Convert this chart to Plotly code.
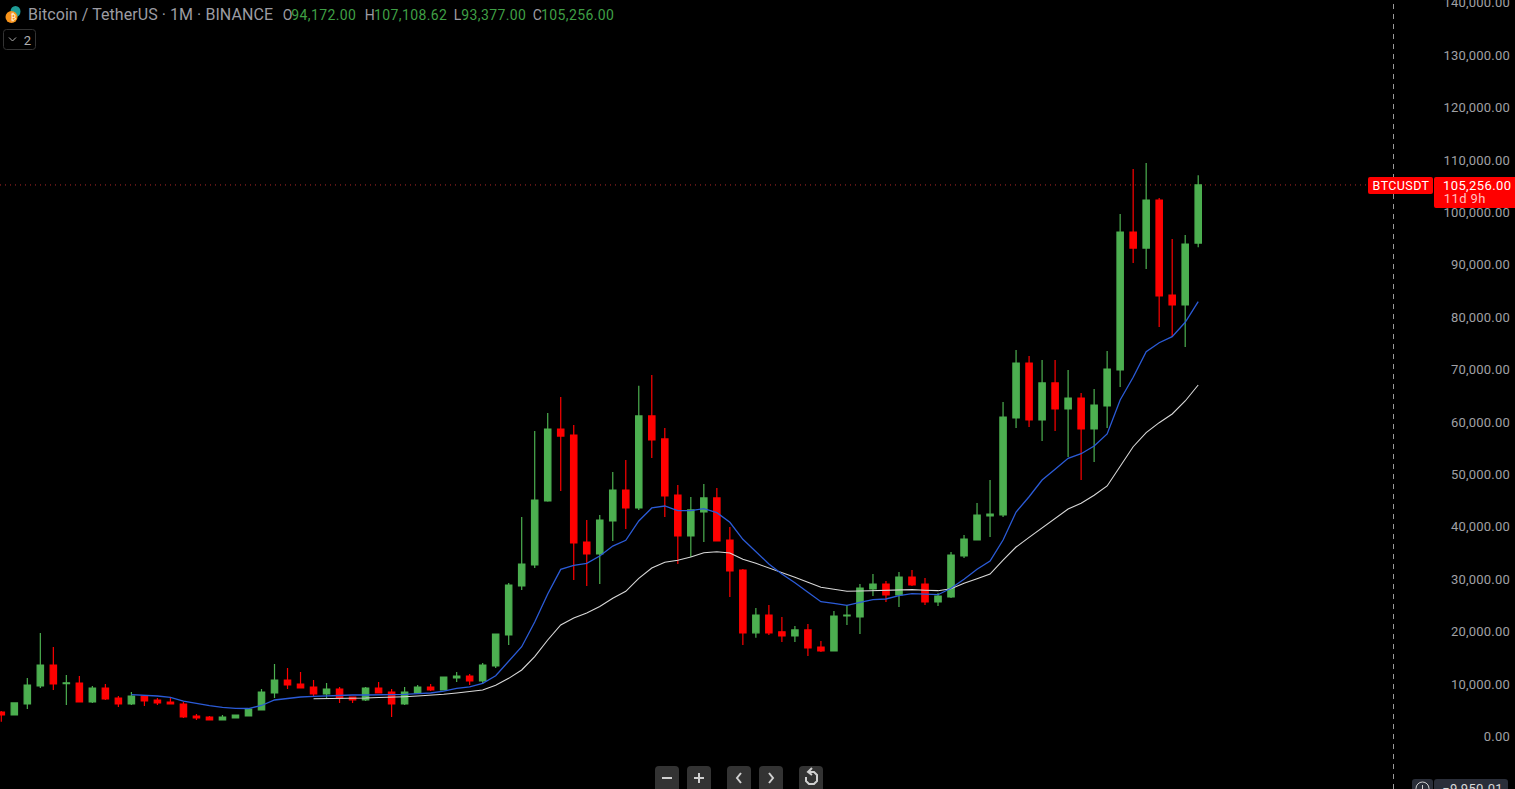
import plotly.graph_objects as go

# Monthly BTC/USDT candles
opens = [4675,4100,6200,9640,13645,10100,10210,6584,9255,7347,6202,7729,6965,6584,6202,3912,3721,3148,3530,3912,5057,8301,
 10783,10019,9446,8110,9064,7538,6965,9255,8492,6202,8301,9446,8874,11164,11546,10592,13455,19370,28721,32730,44940,58680,57530,
 37120,34830,41130,47040,43610,61170,56780,46090,38260,42850,45520,37500,31770,19790,23190,19980,19180,20330,17080,16320,23000,
 22810,28150,29100,27000,30440,29100,25670,26620,34450,37500,42080,42270,60780,71280,60400,67470,62500,64600,58680,63070,69940,
 96280,93220,102380,84260,82350,94172]
highs = [4866,6450,11164,19752,17080,11737,11546,9637,10019,7729,8492,7850,7347,7538,6584,4293,3912,4103,4200,5300,9064,13836,
 13073,12309,10783,10210,9446,7600,9446,10401,9064,9446,9828,10019,11400,12309,11928,14027,19650,29290,41890,58300,61740,64790,
 59440,41320,42270,50480,52770,66930,68990,58870,47990,45710,48180,47420,39980,31960,24530,25100,22810,21090,21470,18230,23950,
 25100,29100,31010,29670,31390,31770,30250,27390,35210,38450,44560,48950,63830,73760,72610,71850,71850,69950,65550,66320,73570,
 99700,108300,109450,102770,94940,95710,107108.62]
lows = [2820,4050,5248,9255,8874,6011,6584,6393,6965,5630,6011,5821,6011,6202,3530,3148,3100,3100,3480,3850,5000,7347,9064,9255,
 7729,7347,6393,6393,6775,8301,3721,6011,8110,8683,8800,10401,9828,10019,13073,17464,27960,32150,44800,46850,29870,28720,29100,
 37310,39600,43230,53150,41890,32920,34260,37120,37310,26620,17460,18840,19370,18040,18040,15360,16130,16250,21280,19560,26810,
 25670,24710,28720,25100,24900,26430,34070,37400,38070,41890,58870,59060,56400,58300,53340,48950,52390,58870,66700,90360,89220,
 78150,76430,74330,93377]
closes = [4100,6400,9828,13645,10019,10250,6584,9255,7156,6202,7729,6775,6393,6202,3721,3530,3148,3721,4103,5248,8492,10783,9828,
 9255,8110,9064,7347,6965,9255,8301,6202,8492,9446,8874,11355,11546,10592,13645,19560,28915,32920,45135,58680,57340,36930,34830,
 41320,47040,43610,61170,56590,45900,38260,43230,45520,37310,31580,19790,23190,19790,19180,20330,16890,16320,23000,23190,28340,
 29100,27000,30440,28910,25670,26810,34640,37690,42270,42460,60970,71280,60400,67470,62500,64600,58680,63260,70130,96280,93220,
 102380,84070,82350,93990,105256]
ma_fast = [None]*10 + [8010,7920,7730,7480,6770,6340,5880,5570,5380,5340,5920,6970,7290,7540,7670,7790,7860,7920,7920,7920,8020,
 8050,8170,8300,8680,9200,9450,10150,11600,14270,17140,21850,27200,31900,32670,33050,34450,36350,37440,41130,43610,43990,43090,
 43090,43470,42710,40880,37630,35270,32920,31010,29350,27510,25730,25420,25040,25610,26110,26240,26870,27250,27140,27060,28280,
 30000,31910,33490,37500,42840,45760,48950,50990,53090,53970,55440,57730,64220,68550,73440,75150,76300,79050,82980]
ma_slow = [None]*24 + [7210,7210,7250,7290,7350,7440,7480,7600,7730,7860,8050,8300,8550,8870,9770,11100,12690,15230,18420,21280,
 22610,23570,24810,26370,27710,30190,32160,33240,33620,34260,35080,35270,35020,33820,33050,32210,31260,30380,29430,28470,28090,
 27710,27770,27830,27900,27960,28020,27900,27830,28210,29240,30110,31010,33680,36160,38000,39850,41640,43420,44500,46030,47810,
 51620,55300,57980,59890,61550,64030,67080]
months = list(range(len(closes)))
price_ticks = list(range(0, 150000, 10000))
title_text = "Bitcoin / TetherUS · 1M · BINANCE"
ohlc_labels = [("O", 282, "94,172.00", 292), ("H", 364, "107,108.62", 375), ("L", 453, "93,377.00", 462), ("C", 532, "105,256.00", 542)]

W, H = 1515, 789
GREEN, RED = "#4CAF50", "#FF0000"
FONT = "Roboto"
px = lambda x: x / W
py = lambda y: 1 - y / H

def rrect(x0, y0, x1, y1, r=4):
    return (f"M{px(x0+r)},{py(y0)} L{px(x1-r)},{py(y0)} Q{px(x1)},{py(y0)} {px(x1)},{py(y0+r)} "
            f"L{px(x1)},{py(y1-r)} Q{px(x1)},{py(y1)} {px(x1-r)},{py(y1)} L{px(x0+r)},{py(y1)} "
            f"Q{px(x0)},{py(y1)} {px(x0)},{py(y1-r)} L{px(x0)},{py(y0+r)} Q{px(x0)},{py(y0)} {px(x0+r)},{py(y0)} Z")

def poly(points):
    return "M" + " L".join(f"{px(x)},{py(y)}" for x, y in points)

def shp(path, fill=None, line=None, lw=1):
    d = dict(type="path", xref="paper", yref="paper", path=path, layer="above",
             line=dict(color=line or "rgba(0,0,0,0)", width=lw))
    if fill:
        d["fillcolor"] = fill
    return d

def txt(x, y, s, color, size, anchor="left"):
    return dict(xref="paper", yref="paper", x=px(x), y=py(y), text=s, showarrow=False, xanchor=anchor, yanchor="middle",
                font=dict(family=FONT, size=size, color=color), borderpad=0, bgcolor="rgba(0,0,0,0)")

fig = go.Figure()
fig.add_trace(go.Candlestick(x=months, open=opens, high=highs, low=lows, close=closes, whiskerwidth=0, hoverinfo="skip",
    increasing=dict(line=dict(color=GREEN, width=1.2), fillcolor=GREEN),
    decreasing=dict(line=dict(color=RED, width=1.2), fillcolor=RED)))
fig.add_trace(go.Scatter(x=months, y=ma_slow, mode="lines", line=dict(color="#D8D8D8", width=1.1), hoverinfo="skip"))
fig.add_trace(go.Scatter(x=months, y=ma_fast, mode="lines", line=dict(color="#2B5BD7", width=1.3), hoverinfo="skip"))

shapes = [
    # last-price dotted line and the cursor's dashed line
    dict(type="line", xref="paper", yref="y", x0=0, x1=px(1368), y0=closes[-1], y1=closes[-1], layer="below",
         line=dict(color="#B02828", width=1, dash="1px 4px")),
    dict(type="line", xref="paper", yref="paper", x0=px(1393.5), x1=px(1393.5), y0=0, y1=1, layer="below",
         line=dict(color="#9a9a9a", width=1, dash="5px 5px")),
    # price badges
    shp(rrect(1368, 177, 1433, 194, 2), fill="#FF0000"),
    shp(rrect(1434, 177, 1520, 208, 2), fill="#FF0000"),
    # legend icons
    dict(type="circle", xref="paper", yref="paper", x0=px(10.5), x1=px(20.5), y0=py(6), y1=py(17), layer="above",
         fillcolor="#1E9C96", line=dict(width=0)),
    dict(type="circle", xref="paper", yref="paper", x0=px(5.5), x1=px(17.5), y0=py(11), y1=py(23), layer="above",
         fillcolor="#F7931A", line=dict(width=0)),
    shp(rrect(3.5, 29.5, 35.5, 49.5, 3), line="#333333"),
    shp(poly([(9, 37.5), (12.5, 41), (16, 37.5)]), line="#B0B0B0", lw=1),
    # zoom & scroll buttons
    shp(rrect(655, 766, 679, 800, 4), fill="#333333"),
    shp(rrect(687, 766, 711, 800, 4), fill="#333333"),
    shp(rrect(727, 766, 751, 800, 4), fill="#333333"),
    shp(rrect(759, 766, 783, 800, 4), fill="#333333"),
    shp(rrect(799, 766, 823, 800, 4), fill="#333333"),
    shp(poly([(662, 778), (672, 778)]), line="#D0D0D0", lw=2),
    shp(poly([(694, 778), (704, 778)]), line="#D0D0D0", lw=2),
    shp(poly([(699, 773), (699, 783)]), line="#D0D0D0", lw=2),
    shp(poly([(741, 773), (737, 778), (741, 783)]), line="#D0D0D0", lw=2),
    shp(poly([(769, 773), (773, 778), (769, 783)]), line="#D0D0D0", lw=2),
    shp(poly([(809, 772), (814, 772), (817, 775), (817, 781), (814, 784), (809, 784), (806, 781), (806, 777)]), line="#D0D0D0", lw=2),
    shp(poly([(812, 768), (808, 772), (812, 775)]), line="#D0D0D0", lw=2),
    # crosshair price tag
    shp(rrect(1412, 779, 1433, 800, 3), fill="#2A2E39"),
    shp(rrect(1434, 779, 1508, 800, 3), fill="#2A2E39"),
    dict(type="circle", xref="paper", yref="paper", x0=px(1416), x1=px(1429), y0=py(782), y1=py(795), layer="above",
         line=dict(color="#D0D0D0", width=1)),
    shp(poly([(1422.5, 785), (1422.5, 789)]), line="#D0D0D0", lw=1),
]

annotations = [txt(27.5, 14, title_text, "#9C9CA3", 16),
               txt(22.5, 40, "2", "#B0B0B0", 13),
               txt(1373, 185.5, "BTCUSDT", "#FFFFFF", 12.5),
               txt(1444, 185.5, "105,256.00", "#FFFFFF", 13),
               txt(1444, 199, "11d 9h", "#FFC0C0", 13),
               txt(1443, 788, "−9,950.01", "#D8D8D8", 13),
               txt(14.5, 17, "₿", "#FFFFFF", 8, "center")]
for letter, lx, value, vx in ohlc_labels:
    annotations.append(txt(lx, 14.5, letter, "#9C9CA3", 14))
    annotations.append(txt(vx, 14.5, value, "#3F9F45", 14))

fig.update_layout(
    width=W, height=H, margin=dict(l=0, r=0, t=0, b=0), autosize=False, showlegend=False, hovermode=False,
    paper_bgcolor="#000000", plot_bgcolor="#000000", shapes=shapes, annotations=annotations, boxgap=0.3,
    xaxis=dict(visible=False, automargin=False, range=[-0.1, 116.35], rangeslider=dict(visible=False), showgrid=False),
    yaxis=dict(side="right", automargin=False, range=[-10019, 140553], tickmode="array", tickvals=price_ticks, tickformat=",.2f",
               showgrid=False, zeroline=False, showline=False, ticks="", ticklabelposition="inside",
               ticklabeloverflow="allow", ticklabelstandoff=2, tickfont=dict(family=FONT, size=13, color="#A0A0A5")),
)
css = (".ytick text{letter-spacing:.2px}"
       ".annotation text{letter-spacing:.4px}"
       ".annotation[data-index='0'] text{letter-spacing:.06px}")
fig.write_html("out.html", config=dict(displayModeBar=False),
    post_script="var s=document.createElement('style');s.textContent=\"" + css + "\";document.head.appendChild(s);"
                "document.body.style.margin='0';document.body.style.background='#000';document.documentElement.style.overflow='hidden';")
